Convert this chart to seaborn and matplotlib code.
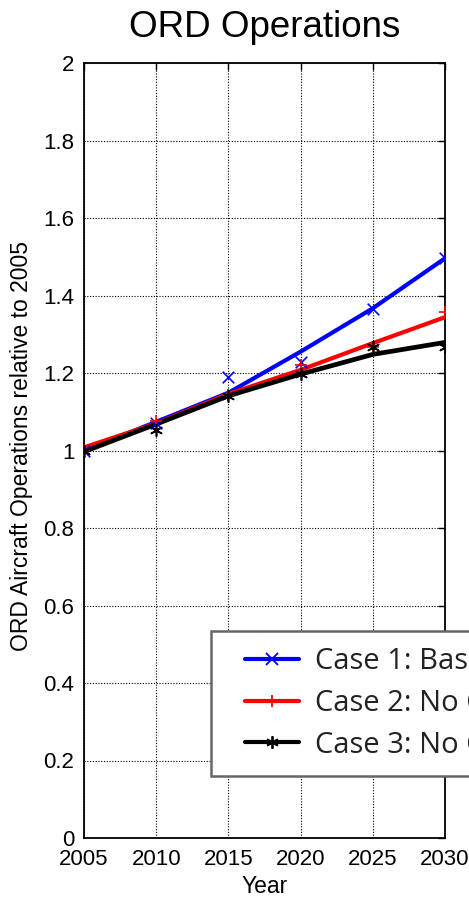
import numpy as np
import pandas as pd
import matplotlib
matplotlib.use("Agg")
import matplotlib.pyplot as plt
from matplotlib.lines import Line2D
from matplotlib.legend_handler import HandlerLine2D
import seaborn as sns

years = [2005, 2010, 2015, 2020, 2025, 2030]

# fitted curves (lines)
fit_case1 = [1.000, 1.074, 1.149, 1.255, 1.367, 1.496]
fit_case2 = [1.008, 1.070, 1.146, 1.208, 1.277, 1.344]
fit_case3 = [0.997, 1.068, 1.141, 1.197, 1.248, 1.279]

# forecast points (markers)
pts_case1 = [1.000, 1.072, 1.190, 1.229, 1.366, 1.496]
pts_case2 = [1.002, 1.076, 1.142, 1.221, 1.268, 1.358]
pts_case3 = [1.000, 1.053, 1.140, 1.197, 1.268, 1.266]

labels = ["Case 1: Baseline", "Case 2: No Capacity Limit", "Case 3: No Capacity Growth"]
colors = ["#0000ff", "#ff0000", "#000000"]
markers = ["x", "+", (6, 2, 0)]

fits = pd.DataFrame({
    "year": years * 3,
    "value": fit_case1 + fit_case2 + fit_case3,
    "case": [labels[0]] * 6 + [labels[1]] * 6 + [labels[2]] * 6,
})
pts = pd.DataFrame({
    "year": years * 3,
    "value": pts_case1 + pts_case2 + pts_case3,
    "case": [labels[0]] * 6 + [labels[1]] * 6 + [labels[2]] * 6,
})


class PaddedLine(HandlerLine2D):
    # legend line inset on both sides, single marker in the middle
    def get_xdata(self, legend, xdescent, ydescent, width, height, fontsize):
        pad = self._marker_pad * fontsize
        xdata = np.array([-xdescent + pad, -xdescent + width - pad])
        return xdata, np.array([xdata.mean()])


sns.set_style("white")
plt.rcParams["font.family"] = ["Liberation Sans", "DejaVu Sans"]
plt.rcParams["text.color"] = "black"
plt.rcParams["axes.labelcolor"] = "black"

fig = plt.figure(figsize=(4.69, 8.99), dpi=100)
ax = fig.add_axes([84 / 469, 61 / 899, 361 / 469, 775 / 899])

widths = [3.0, 3.0, 3.4]
for lab, col, mk, lw in zip(labels, colors, markers, widths):
    sub = fits[fits["case"] == lab]
    sns.lineplot(data=sub, x="year", y="value", color=col, linewidth=lw,
                 ax=ax, legend=False, zorder=3)
    sp = pts[pts["case"] == lab]
    ax.scatter(sp["year"], sp["value"], marker=mk, s=70, color=col,
               linewidths=1.2, zorder=4)

ax.set_xlim(2005, 2030)
ax.set_ylim(0, 2)
ax.set_xticks(years)
yt = np.round(np.arange(0, 2.01, 0.2), 1)
ax.set_yticks(yt)
ax.set_yticklabels([f"{v:g}" for v in yt])
ax.tick_params(direction="in", length=5, width=1, labelsize=16, colors="black",
               labelcolor="black", top=True, right=True)
ax.tick_params(axis="x", pad=8)
ax.tick_params(axis="y", pad=7)
ax.grid(True, color="black", linestyle=(0, (1, 1.5)), linewidth=0.8)
ax.set_axisbelow(True)
for sp_ in ax.spines.values():
    sp_.set_color("black")
    sp_.set_linewidth(1.3)

ax.set_title("ORD Operations", fontsize=26.5, pad=19, color="black")
ax.set_xlabel("Year", fontsize=16.5, color="black")
ax.set_ylabel("ORD Aircraft Operations relative to 2005", fontsize=16.5, color="black")
ax.xaxis.set_label_coords(0.5, -0.048)
ax.yaxis.set_label_coords(-0.142, 0.506)

handles = [Line2D([0], [0], color=c, marker=m, linewidth=3, markersize=9,
                  markeredgewidth=1.3) for c, m in zip(colors, markers)]
leg = ax.legend(handles, labels, loc="lower left", bbox_to_anchor=(0.352, 0.08),
                numpoints=1, fancybox=False, framealpha=1, edgecolor="#666666",
                prop={"family": "Open Sans", "size": 21}, handlelength=3.08,
                borderpad=0.56, labelspacing=0.44, handletextpad=-0.07,
                borderaxespad=0,
                handler_map={Line2D: PaddedLine(marker_pad=0.62)})
leg.get_frame().set_linewidth(1.8)
for t in leg.get_texts():
    t.set_color("#222222")

fig.savefig("out.png", dpi=100)
